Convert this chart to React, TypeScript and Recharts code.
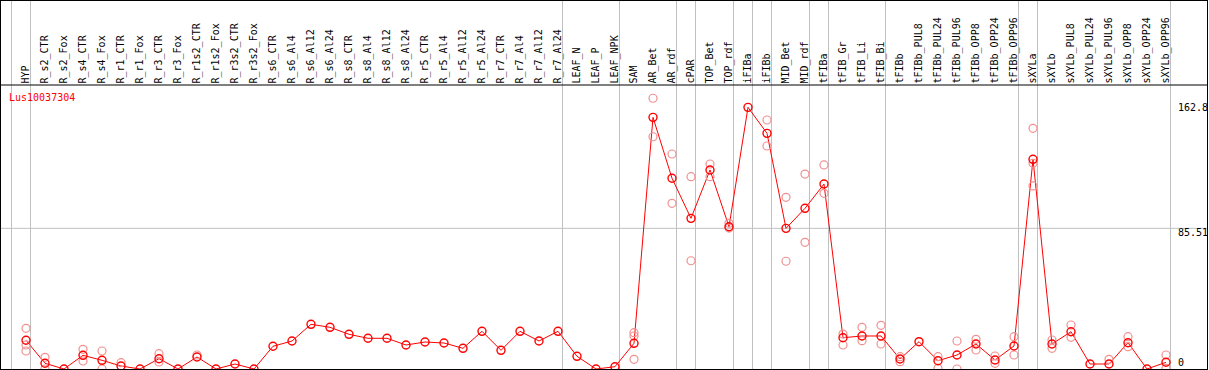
import React from 'react';
import { ComposedChart, Line, Scatter, XAxis, YAxis, ReferenceLine } from 'recharts';

const title = 'Lus10037304';

const categories = [
  'HYP', 'R_s2_CTR', 'R_s2_Fox', 'R_s4_CTR', 'R_s4_Fox', 'R_r1_CTR', 'R_r1_Fox', 'R_r3_CTR', 'R_r3_Fox',
  'R_r1s2_CTR', 'R_r1s2_Fox', 'R_r3s2_CTR', 'R_r3s2_Fox', 'R_s6_CTR', 'R_s6_Al4', 'R_s6_Al12', 'R_s6_Al24',
  'R_s8_CTR', 'R_s8_Al4', 'R_s8_Al12', 'R_s8_Al24', 'R_r5_CTR', 'R_r5_Al4', 'R_r5_Al12', 'R_r5_Al24',
  'R_r7_CTR', 'R_r7_Al4', 'R_r7_Al12', 'R_r7_Al24', 'LEAF_N', 'LEAF_P', 'LEAF_NPK', 'SAM', 'AR_Bet', 'AR_rdf',
  'cPAR', 'TOP_Bet', 'TOP_rdf', 'iFIBa', 'iFIBb', 'MID_Bet', 'MID_rdf', 'tFIBa', 'tFIB_Gr', 'tFIB_Li', 'tFIB_Bi',
  'tFIBb', 'tFIBb_PUL8', 'tFIBb_PUL24', 'tFIBb_PUL96', 'tFIBb_OPP8', 'tFIBb_OPP24', 'tFIBb_OPP96',
  'sXYLa', 'sXYLb', 'sXYLb_PUL8', 'sXYLb_PUL24', 'sXYLb_PUL96', 'sXYLb_OPP8', 'sXYLb_OPP24', 'sXYLb_OPP96',
];

const meanValues = [
  14.0, -0.7, -4.34, 4.41, 1.21, -2.43, -4.34, 2.24, -4.34,
  3.32, -4.34, -1.15, -4.34, 10.16, 13.54, 24.21, 22.29,
  17.82, 15.27, 15.27, 10.99, 12.9, 12.26, 8.88, 19.74,
  7.6, 19.74, 13.54, 19.74, 3.77, -4.34, -2.87, 12.07, 156.4, 117.5,
  91.9, 122.8, 86.55, 162.8, 146.2, 85.5, 98.3, 113.8, 15.65, 16.74, 16.74,
  2.04, 13.1, 0.96, 4.6, 11.63, 1.41, 10.35,
  129.6, 11.63, 19.48, -1.15, -1.15, 12.46, -4.34, -0.06,
];

const replicateValues: number[][] = [
  [21.65, 10.99, 7.15], [3.13, -4.34], [], [8.24, 0.77], [7.15, -4.34], [-0.32], [], [5.43, 0.13], [],
  [4.6], [], [], [], [], [], [], [],
  [], [], [], [], [], [], [], [],
  [], [], [], [], [], [], [], [18.84, 16.74, 1.85], [168.6, 144.0], [133.0, 101.5],
  [118.5, 64.8], [126.6, 118.5], [88.7, 85.7], [], [154.7, 138.1], [105.3, 64.5], [120.2, 76.6], [126.0, 107.9], [18.0, 10.99], [22.29, 13.73], [23.57, 11.63],
  [3.51, 0.32], [], [3.51, -3.9], [13.54, -4.34], [14.63, 7.79], [3.96, -0.7], [16.29, 4.6],
  [149.4, 127.1, 112.6], [14.18, 8.88], [23.76, 15.9], [], [1.85], [16.29, 9.9], [], [4.6, -3.9],
];

const separatorsAfter = [-1, 0, 28, 31, 34, 35, 37, 38, 39, 41, 42, 45, 52, 53, 60];
const yTicks = [0, 85.51, 162.8];
const yGridValue = 85.51;

const chartData = categories.map((name, idx) => ({ idx, name, mean: meanValues[idx] }));
const repData = replicateValues.flatMap((vals, idx) => vals.map((v) => ({ idx, v })));

const FONT = '"DejaVu Sans Mono", monospace';
const W = 1209;
const H = 370;

const XTick = (props: any) => {
  const { x, payload } = props;
  const label = categories[payload.value];
  return (
    <text
      transform={`translate(${x + 2.5},83.5) rotate(-90)`}
      textAnchor="start"
      fontFamily={FONT}
      fontSize={10}
      fill="#000"
    >
      {label}
    </text>
  );
};

const YTick = (props: any) => {
  const { y, payload } = props;
  const extra = payload.value === yGridValue ? 7.4 : 3.6;
  return (
    <text x={1178} y={y + extra} textAnchor="start" fontFamily={FONT} fontSize={10} fill="#000">
      {payload.value}
    </text>
  );
};

const SepShape = (props: any) => {
  const { x1, x2, y2 } = props;
  return <line x1={x1} x2={x2} y1={0} y2={y2} stroke="#c0c0c0" strokeWidth={1} />;
};

const RepDot = (props: any) => {
  const { cx, cy } = props;
  return <circle cx={cx} cy={cy} r={4} fill="none" stroke="#f09090" strokeWidth={1.2} />;
};

export default function App() {
  const xMin = -26 / 19;
  const xMax = (1207 - 26) / 19;
  return (
    <div style={{ position: 'absolute', left: 0, top: 0, width: W, height: H, background: '#fff' }}>
      <ComposedChart
        width={W}
        height={H}
        data={chartData}
        margin={{ top: 0, right: 2, bottom: 1, left: 0 }}
      >
        <XAxis
          dataKey="idx"
          type="number"
          orientation="top"
          height={85}
          domain={[xMin, xMax]}
          allowDataOverflow
          ticks={categories.map((_, i) => i)}
          interval={0}
          tick={<XTick />}
          tickLine={false}
          axisLine={{ stroke: '#000', strokeWidth: 1 }}
        />
        <YAxis
          type="number"
          orientation="right"
          mirror
          width={30}
          domain={[-4.34, 177.07]}
          allowDataOverflow
          ticks={yTicks}
          interval={0}
          tick={<YTick />}
          tickLine={false}
          axisLine={false}
        />
        <ReferenceLine y={yGridValue} stroke="#c0c0c0" strokeWidth={1} />
        {separatorsAfter.map((k) => (
          <ReferenceLine key={k} x={k + 0.2368} shape={<SepShape />} />
        ))}
        <Scatter data={repData} dataKey="v" shape={<RepDot />} isAnimationActive={false} />
        <Line
          dataKey="mean"
          stroke="#ff0000"
          strokeWidth={1}
          dot={{ r: 4, stroke: '#ff0000', strokeWidth: 1.4, fill: 'none' }}
          activeDot={false}
          isAnimationActive={false}
        />
      </ComposedChart>
      <svg
        width={W}
        height={H}
        style={{ position: 'absolute', left: 0, top: 0, pointerEvents: 'none' }}
      >
        <text x={9} y={101} fontFamily={FONT} fontSize={10} fill="#ff0000">
          {title}
        </text>
      </svg>
      <div
        style={{
          position: 'absolute',
          left: 0,
          top: 0,
          width: 1208,
          height: H,
          border: '1px solid #000',
          boxSizing: 'border-box',
          pointerEvents: 'none',
        }}
      />
    </div>
  );
}
